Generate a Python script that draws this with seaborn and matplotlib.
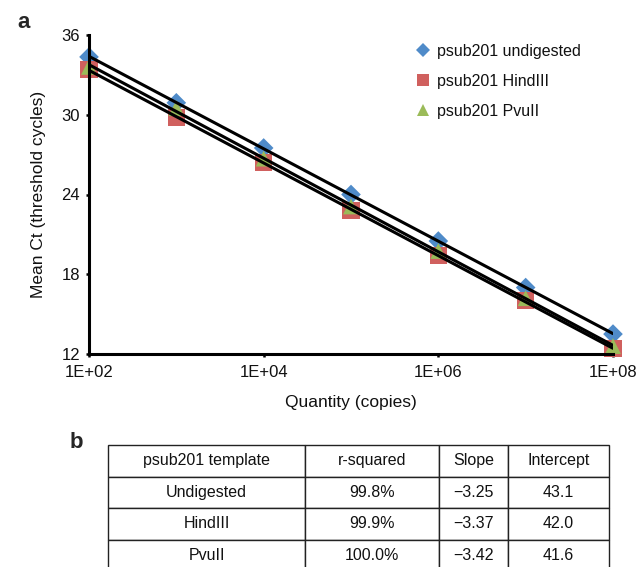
import numpy as np
import pandas as pd
import matplotlib
matplotlib.use('Agg')
import matplotlib.pyplot as plt
import seaborn as sns

sns.set_theme(style="white")
plt.rcParams['font.family'] = ['Liberation Sans', 'DejaVu Sans']

# Data
quantity = [1e2, 1e3, 1e4, 1e5, 1e6, 1e7, 1e8]
ct_undigested = [34.35, 30.9, 27.5, 24.0, 20.5, 17.0, 13.5]
ct_hindiii = [33.4, 29.8, 26.4, 22.8, 19.4, 16.0, 12.4]
ct_pvuii = [33.6, 30.5, 26.7, 23.1, 19.75, 16.2, 12.6]

series_names = ['psub201 undigested', 'psub201 HindIII', 'psub201 PvuII']
series_colors = ['#4F8BC9', '#D0605E', '#9BBB59']
series_markers = ['D', 's', '^']

table_header = ['psub201 template', 'r-squared', 'Slope', 'Intercept']
table_rows = [['Undigested', '99.8%', '\u22123.25', '43.1'],
              ['HindIII', '99.9%', '\u22123.37', '42.0'],
              ['PvuII', '100.0%', '\u22123.42', '41.6']]

df = pd.DataFrame({
    'Quantity': quantity * 3,
    'Ct': ct_undigested + ct_hindiii + ct_pvuii,
    'Template': np.repeat(series_names, len(quantity)),
})

W, H = 637, 567
fig = plt.figure(figsize=(W / 100, H / 100), dpi=100)

# ---------------------------------------------------------
# a. standard curves
# ---------------------------------------------------------
ax = fig.add_axes([89 / W, 1 - 354 / H, 524 / W, 319 / H])
ax.set_xscale('log')

sizes = {'psub201 undigested': 100, 'psub201 HindIII': 150, 'psub201 PvuII': 130}
sns.scatterplot(data=df, x='Quantity', y='Ct', hue='Template', style='Template',
                palette=dict(zip(series_names, series_colors)),
                markers=dict(zip(series_names, series_markers)),
                size='Template', sizes=sizes,
                edgecolor='none', ax=ax, zorder=2, clip_on=False, legend=False)

for name in series_names:
    sub = df[df['Template'] == name]
    sns.regplot(data=sub, x='Quantity', y='Ct', logx=True, scatter=False, ci=None,
                color='black', line_kws={'linewidth': 2.2, 'zorder': 3}, ax=ax)

ax.set_xlim(1e2, 1e8)
ax.set_ylim(12, 36)
ax.set_yticks([12, 18, 24, 30, 36])
ax.set_xticks([1e2, 1e4, 1e6, 1e8])
ax.set_xticklabels(['1E+02', '1E+04', '1E+06', '1E+08'])
ax.minorticks_off()
ax.tick_params(axis='both', direction='out', length=2.5, width=1.8, color='black',
               labelsize=12, labelcolor='#111111', left=True, bottom=True)
ax.tick_params(axis='x', pad=5.5)
ax.tick_params(axis='y', pad=4)
for side in ['top', 'right']:
    ax.spines[side].set_visible(False)
for side in ['left', 'bottom']:
    ax.spines[side].set_linewidth(2.2)
    ax.spines[side].set_color('black')
ax.set_facecolor('none')

ax.set_xlabel('Quantity (copies)', fontsize=12.5, labelpad=11, color='#111111')
ax.set_ylabel('Mean Ct (threshold cycles)', fontsize=12.5, labelpad=11, color='#111111')

# legend with small markers, as in the reference
legend_handles = [plt.Line2D([], [], linestyle='none', marker=m, color=c,
                             markersize=ms, markeredgewidth=0)
                  for m, c, ms in zip(series_markers, series_colors, [7, 8.5, 8.5])]
ax.legend(legend_handles, series_names, loc='upper left', bbox_to_anchor=(0.585, 1.018),
          frameon=False, fontsize=11.5, labelspacing=0.95, handletextpad=0.1,
          handlelength=1.6, labelcolor='#111111')

fig.text(17 / W, 1 - 22 / H, 'a', fontsize=16, fontweight='bold', va='center')
fig.text(70 / W, 1 - 442 / H, 'b', fontsize=16, fontweight='bold', va='center')

# ---------------------------------------------------------
# b. regression table
# ---------------------------------------------------------
tax = fig.add_axes([108 / W, 1 - 571 / H, 501 / W, 126 / H])
tax.axis('off')
col_px = [305 - 108, 439 - 305, 508 - 439, 609 - 508]
col_widths = [c / sum(col_px) for c in col_px]
tbl = tax.table(cellText=table_rows, colLabels=table_header, colWidths=col_widths,
                cellLoc='center', bbox=[0, 0, 1, 1])
tbl.auto_set_font_size(False)
tbl.set_fontsize(11.5)
for cell in tbl.get_celld().values():
    cell.set_linewidth(1.0)
    cell.set_edgecolor('#222222')
    cell.get_text().set_color('#111111')

fig.savefig('out.png', dpi=100)
